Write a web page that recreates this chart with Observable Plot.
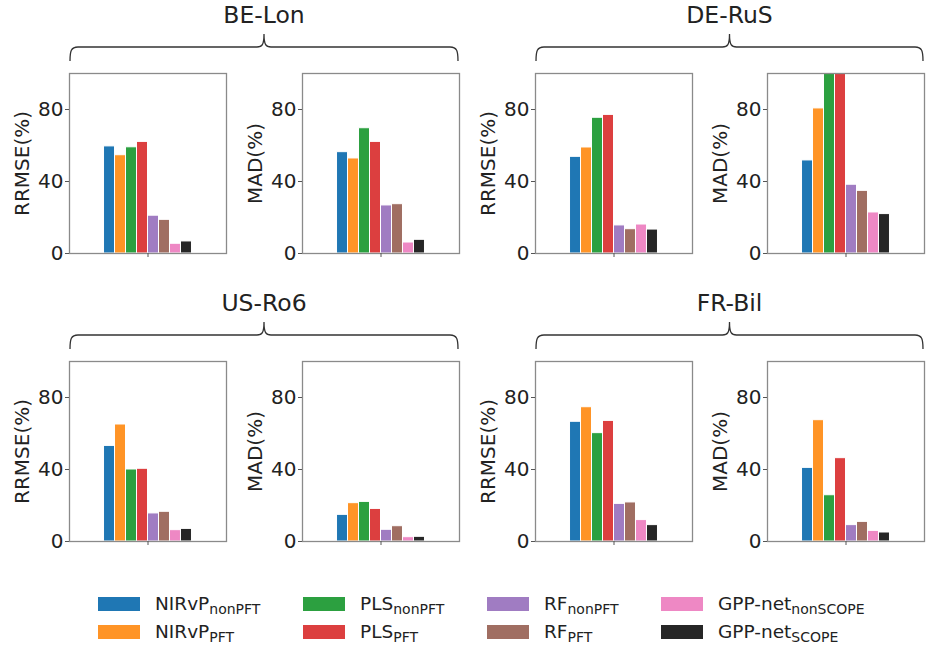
<!DOCTYPE html>
<html>
<head>
<meta charset="utf-8">
<script src="https://cdn.jsdelivr.net/npm/d3@7"></script>
<script src="https://cdn.jsdelivr.net/npm/@observablehq/plot@0.6"></script>
<style>
  html, body { margin: 0; padding: 0; background: #fff; }
  #root { position: relative; width: 929px; height: 654px; font-family: "DejaVu Sans", sans-serif; color: #222; overflow: hidden; }
  .panel { position: absolute; }
  .leg-sw { position: absolute; width: 42px; height: 14px; }
  .leg-tx { position: absolute; font-size: 18.5px; line-height: 18px; color: #222; white-space: nowrap; }
  .leg-tx sub { font-size: 14px; vertical-align: -4px; line-height: 0; }
</style>
</head>
<body>
<div id="root"></div>
<script>
// ---- data ----
const methods = ["NIRvP_nonPFT", "NIRvP_PFT", "PLS_nonPFT", "PLS_PFT", "RF_nonPFT", "RF_PFT", "GPP-net_nonSCOPE", "GPP-net_SCOPE"];
const methodMain = ["NIRvP", "NIRvP", "PLS", "PLS", "RF", "RF", "GPP-net", "GPP-net"];
const methodSub = ["nonPFT", "PFT", "nonPFT", "PFT", "nonPFT", "PFT", "nonSCOPE", "SCOPE"];
const colors = ["#1f77b4", "#ff9426", "#2ca040", "#dc3f3f", "#a07cc2", "#a06e62", "#ee88c4", "#262626"];
const sites = ["BE-Lon", "DE-RuS", "US-Ro6", "FR-Bil"];
const metricLabels = ["RRMSE(%)", "MAD(%)"];
const yTicks = [0, 40, 80];

const beLonRRMSE = [59.5, 54.6, 59.0, 62.0, 21.0, 18.7, 5.4, 6.7];
const beLonMAD   = [56.3, 52.8, 69.6, 62.0, 26.7, 27.4, 6.1, 7.6];
const deRuSRRMSE = [53.7, 58.9, 75.4, 77.0, 15.6, 13.5, 16.1, 13.3];
const deRuSMAD   = [51.7, 80.6, 110.0, 115.0, 38.2, 34.8, 22.8, 21.9];
const usRo6RRMSE = [53.1, 65.0, 40.0, 40.4, 15.6, 16.5, 6.3, 7.0];
const usRo6MAD   = [14.8, 21.3, 22.0, 18.1, 6.5, 8.5, 2.4, 2.6];
const frBilRRMSE = [66.5, 74.6, 60.2, 67.0, 20.9, 21.7, 11.9, 9.1];
const frBilMAD   = [40.9, 67.4, 25.7, 46.3, 9.1, 10.9, 5.9, 5.0];

const siteValues = [
  [beLonRRMSE, beLonMAD],
  [deRuSRRMSE, deRuSMAD],
  [usRo6RRMSE, usRo6MAD],
  [frBilRRMSE, frBilMAD]
];

// ---- layout ----
const root = document.getElementById("root");
const frameLefts = [69, 302, 535, 767];   // per column of panels
const frameTops = [73, 361];              // per row
const frameW = 157, frameH = 180;
const mL = 60, mR = 5, mT = 8, mB = 12;

function panel(values, label) {
  const data = methods.map((m, i) => ({method: m, i, value: values[i]}));
  return Plot.plot({
    width: mL + frameW + mR,
    height: mT + frameH + mB,
    marginLeft: mL, marginRight: mR, marginTop: mT, marginBottom: mB,
    style: {fontFamily: "DejaVu Sans, sans-serif", color: "#222", background: "transparent", overflow: "visible"},
    x: {domain: [-7.14, 7.14], axis: null},
    y: {domain: [0, 100], axis: null},
    color: {domain: methods, range: colors},
    marks: [
      Plot.rectY(data, {x1: d => d.i - 4, x2: d => d.i - 3, y: "value", fill: "method", stroke: "white", strokeWidth: 1, clip: true}),
      Plot.frame({stroke: "#8a8a8a", strokeWidth: 1.3}),
      Plot.axisY({ticks: yTicks, tickSize: 4, tickPadding: 2, fontSize: 20, label: null, stroke: "#555"}),
      Plot.axisX({ticks: [0], tickSize: 4, tickFormat: () => "", label: null, stroke: "#555"}),
      Plot.text([label], {text: d => d, frameAnchor: "left", dx: -47, rotate: -90, fontSize: 20, textAnchor: "middle", lineAnchor: "middle", fill: "#222"})
    ]
  });
}

sites.forEach((site, s) => {
  const row = Math.floor(s / 2), col = s % 2;
  metricLabels.forEach((lab, m) => {
    const fl = frameLefts[col * 2 + m];
    const ft = frameTops[row];
    const div = document.createElement("div");
    div.className = "panel";
    div.style.left = (fl - mL) + "px";
    div.style.top = (ft - mT) + "px";
    div.appendChild(panel(siteValues[s][m], lab));
    root.appendChild(div);
  });
});

// ---- titles and braces ----
const svg = d3.select(root).append("svg")
  .attr("width", 929).attr("height", 654)
  .style("position", "absolute").style("left", 0).style("top", 0)
  .style("pointer-events", "none");

sites.forEach((site, s) => {
  const row = Math.floor(s / 2), col = s % 2;
  const x0 = frameLefts[col * 2] + 1;
  const x1 = frameLefts[col * 2 + 1] + frameW - 1;
  const xm = (x0 + x1) / 2;
  const off = frameTops[row] - frameTops[0];
  const yLine = 47 + off, yEnd = 61 + off, yTip = 34 + off;
  svg.append("text")
    .attr("x", xm).attr("y", 23 + off)
    .attr("text-anchor", "middle")
    .attr("font-family", "DejaVu Sans, sans-serif")
    .attr("font-size", 23.5)
    .attr("fill", "#222")
    .text(site);
  const p = `M${x0},${yEnd} C${x0},${yLine + 4} ${x0 + 1},${yLine} ${x0 + 8},${yLine}
    L${xm - 7},${yLine} C${xm - 2},${yLine} ${xm},${yLine - 2} ${xm},${yTip}
    C${xm},${yLine - 2} ${xm + 2},${yLine} ${xm + 7},${yLine}
    L${x1 - 8},${yLine} C${x1 - 1},${yLine} ${x1},${yLine + 4} ${x1},${yEnd}`;
  svg.append("path").attr("d", p).attr("fill", "none").attr("stroke", "#333").attr("stroke-width", 1.3);
});

// ---- legend ----
const legX = [98, 303, 487, 661];
const legY = [597, 625];
methods.forEach((m, i) => {
  const c = Math.floor(i / 2), r = i % 2;
  const sw = document.createElement("div");
  sw.className = "leg-sw";
  sw.style.left = legX[c] + "px";
  sw.style.top = legY[r] + "px";
  sw.style.background = colors[i];
  root.appendChild(sw);
  const tx = document.createElement("div");
  tx.className = "leg-tx";
  tx.style.left = (legX[c] + 57) + "px";
  tx.style.top = (legY[r] - 2) + "px";
  tx.innerHTML = `${methodMain[i]}<sub>${methodSub[i]}</sub>`;
  root.appendChild(tx);
});
</script>
</body>
</html>
